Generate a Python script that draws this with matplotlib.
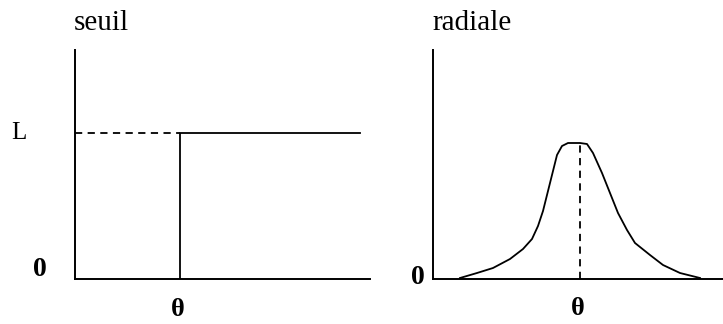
import matplotlib.pyplot as plt

# step (seuil) response, units in px-like axis scale
seuil_theta = 105
seuil_L = 146
seuil_xmax = 285

# radial response curve sampled along theta
radiale_x = [27, 44, 60, 77, 90, 99, 105, 110, 115, 120, 124, 129, 135, 147,
             154, 160, 169, 177, 185, 194, 202, 217, 230, 247, 267]
radiale_y = [1, 6, 11, 20, 30, 40, 53, 68, 88, 108, 124, 133, 136, 136,
             135, 126, 106, 86, 66, 49, 36, 24, 14, 6, 1]
radiale_theta = 147
radiale_peak = 136

plt.rcParams['font.family'] = ['Liberation Serif', 'DejaVu Serif']

fig = plt.figure(figsize=(7.23, 3.24), dpi=100)
W, H = 723, 324

def make_axes(x0, y_top, x1, y_bot, w, h):
    ax = fig.add_axes([x0 / W, (H - y_bot) / H, (x1 - x0) / W, (y_bot - y_top) / H])
    ax.set_xlim(0, w)
    ax.set_ylim(0, h)
    for s in ['top', 'right']:
        ax.spines[s].set_visible(False)
    for s in ['left', 'bottom']:
        ax.spines[s].set_linewidth(1.4)
    ax.set_xticks([])
    ax.set_yticks([])
    ax.patch.set_alpha(0)
    return ax

lw = 1.3

def px(x, y):
    return x / W, 1 - y / H

# left panel: seuil
ax1 = make_axes(75, 50, 370, 279, 295, 229)
ax1.plot([0, seuil_theta], [seuil_L, seuil_L], 'k--', lw=lw, dashes=(4, 3))
ax1.plot([seuil_theta, seuil_theta, seuil_xmax], [0, seuil_L, seuil_L], 'k-', lw=lw)
fig.text(*px(74, 30), 'seuil', fontsize=21, ha='left', va='baseline')
fig.text(*px(19, 133), 'L', fontsize=18, ha='center', va='center')
fig.text(*px(40, 270), '0', fontsize=20, fontweight='bold', ha='center', va='center')
fig.text(*px(178, 316), 'θ', fontsize=19, fontweight='bold', ha='center', va='baseline')

# right panel: radiale
ax2 = make_axes(433, 50, 723, 279, 290, 229)
ax2.plot(radiale_x, radiale_y, 'k-', lw=lw)
ax2.plot([radiale_theta, radiale_theta], [0, radiale_peak], 'k--', lw=lw, dashes=(4, 3))
fig.text(*px(432, 30), 'radiale', fontsize=21, ha='left', va='baseline')
fig.text(*px(418, 277), '0', fontsize=20, fontweight='bold', ha='center', va='center')
fig.text(*px(578, 315), 'θ', fontsize=19, fontweight='bold', ha='center', va='baseline')

fig.savefig('out.png', dpi=100, facecolor='white')
